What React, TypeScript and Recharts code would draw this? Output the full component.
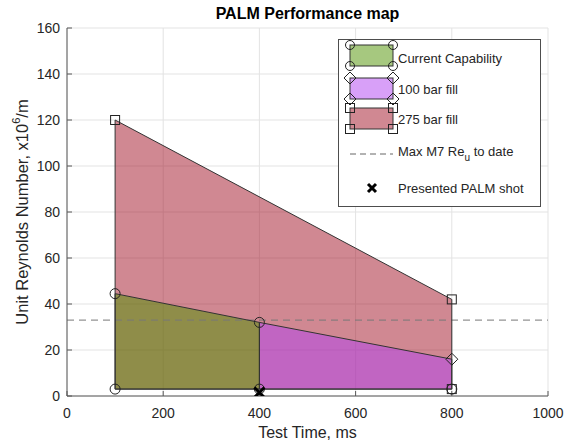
import React from 'react';
import {
  ComposedChart,
  Area,
  Scatter,
  XAxis,
  YAxis,
  CartesianGrid,
  ReferenceLine,
} from 'recharts';

// axis ticks
const xTicks = [0, 200, 400, 600, 800, 1000];
const yTicks = [0, 20, 40, 60, 80, 100, 120, 140, 160];

// envelopes: each one runs from the floor up to its top edge
const floorRe = 3;
const capabilityTop = [{ x: 100, y: 44.5 }, { x: 400, y: 32 }];
const fill100Top = [{ x: 400, y: 32 }, { x: 800, y: 16 }];
const fill275Top = [{ x: 100, y: 120 }, { x: 800, y: 42 }];

// corner markers
const circleMarks = [
  { x: 100, y: 3 },
  { x: 100, y: 44.5 },
  { x: 400, y: 32 },
  { x: 400, y: 3 },
  { x: 800, y: 3 },
];
const squareMarks = [{ x: 100, y: 120 }, { x: 800, y: 42 }, { x: 800, y: 3 }];
const diamondMarks = [{ x: 800, y: 16 }];

const maxM7Re = 33;
const palmShot = [{ x: 400, y: 1.5 }];

const chartTitle = 'PALM Performance map';
const legendLabels = ['Current Capability', '100 bar fill', '275 bar fill', 'Max M7 Re', 'Presented PALM shot'];

const GREEN = '#4d9100';
const PURPLE = '#b141f1';
const RED = '#a11125';
const ALPHA = 0.5;
const EDGE = '#333';
const FONT = '"Liberation Sans", Arial, sans-serif';
const INK = '#262626';

// table for the Area series, keyed by x
const allX = Array.from(new Set([...fill275Top, ...capabilityTop, ...fill100Top].map((p) => p.x))).sort((a, b) => a - b);
const band = (top: { x: number; y: number }[], x: number) => {
  const p = top.find((q) => q.x === x);
  return p ? [floorRe, p.y] : null;
};
const areaData = allX.map((x) => ({
  x,
  fill275: band(fill275Top, x),
  capability: band(capabilityTop, x),
  fill100: band(fill100Top, x),
}));

// closed outline for each envelope
const outline = (top: { x: number; y: number }[]) => [
  { x: top[0].x, y: floorRe },
  ...top,
  { x: top[top.length - 1].x, y: floorRe },
  { x: top[0].x, y: floorRe },
];

const Nothing = () => <g />;
const CircleMark = (p: any) => <circle cx={p.cx} cy={p.cy} r={5} fill="none" stroke="#222" strokeWidth={1} />;
const SquareMark = (p: any) => (
  <rect x={p.cx - 4.5} y={p.cy - 4.5} width={9} height={9} fill="none" stroke="#222" strokeWidth={1} />
);
const DiamondMark = (p: any) => (
  <path d={`M${p.cx},${p.cy - 6}L${p.cx + 6},${p.cy}L${p.cx},${p.cy + 6}L${p.cx - 6},${p.cy}Z`} fill="none" stroke="#222" strokeWidth={1} />
);
const CrossMark = (p: any) => (
  <path
    d={`M${p.cx - 5},${p.cy - 5}L${p.cx + 5},${p.cy + 5}M${p.cx - 5},${p.cy + 5}L${p.cx + 5},${p.cy - 5}`}
    stroke="#000"
    strokeWidth={3}
  />
);

const YLabel = (props: any) => {
  const vb = props.viewBox;
  const cx = 22;
  const cy = vb.y + vb.height / 2;
  return (
    <text
      x={cx}
      y={cy}
      transform={`rotate(-90, ${cx}, ${cy})`}
      textAnchor="middle"
      dominantBaseline="central"
      fontSize={16.5}
      fill={INK}
      fontFamily={FONT}
    >
      Unit Reynolds Number, x10
      <tspan dy={-6} fontSize={11}>6</tspan>
      <tspan dy={6}>/m</tspan>
    </text>
  );
};

function LegendBox() {
  const patch = (y: number, color: string, mark: string) => {
    const corners = [
      [12, y],
      [55, y],
      [12, y + 21],
      [55, y + 21],
    ];
    return (
      <g>
        <rect x={12} y={y} width={43} height={21} fill={color} fillOpacity={ALPHA} stroke={EDGE} strokeWidth={1} />
        {corners.map(([cx, cy], i) =>
          mark === 'circle' ? (
            <circle key={i} cx={cx} cy={cy} r={4.5} fill="none" stroke="#222" />
          ) : mark === 'square' ? (
            <rect key={i} x={cx - 4.5} y={cy - 4.5} width={9} height={9} fill="none" stroke="#222" />
          ) : (
            <path key={i} d={`M${cx},${cy - 6}L${cx + 6},${cy}L${cx},${cy + 6}L${cx - 6},${cy}Z`} fill="none" stroke="#222" />
          )
        )}
      </g>
    );
  };
  const txt = { fontSize: 13, fill: INK, fontFamily: FONT, dominantBaseline: 'central' as const };
  return (
    <svg width={203} height={168} style={{ position: 'absolute', left: 338, top: 39 }}>
      <rect x={0.5} y={0.5} width={202} height={167} fill="#fff" stroke="#4d4d4d" strokeWidth={1} />
      {patch(6, GREEN, 'circle')}
      <text x={60} y={19} {...txt}>{legendLabels[0]}</text>
      {patch(39, PURPLE, 'diamond')}
      <text x={60} y={50} {...txt}>{legendLabels[1]}</text>
      {patch(69, RED, 'square')}
      <text x={60} y={80} {...txt}>{legendLabels[2]}</text>
      <line x1={12} y1={115} x2={55} y2={115} stroke="#666" strokeDasharray="6 4" />
      <text x={60} y={112} {...txt}>
        {legendLabels[3]}
        <tspan dy={6} fontSize={10}>u</tspan>
        <tspan dy={-6}> to date</tspan>
      </text>
      <path d="M30,145L38,153M30,153L38,145" stroke="#000" strokeWidth={3} />
      <text x={60} y={149} {...txt}>{legendLabels[4]}</text>
    </svg>
  );
}

export default function App() {
  return (
    <div style={{ position: 'absolute', left: 0, top: 0, width: 575, height: 440, background: '#fff' }}>
      <ComposedChart
        width={575}
        height={440}
        data={areaData}
        margin={{ top: 28, right: 27, bottom: 0, left: 0 }}
        style={{ fontFamily: FONT }}
      >
        <CartesianGrid stroke="#e3e3e3" />
        <XAxis
          dataKey="x"
          type="number"
          domain={[0, 1000]}
          ticks={xTicks}
          allowDataOverflow
          height={44}
          stroke="#595959"
          tickSize={-5}
          tickMargin={17}
          tick={{ fill: INK, fontSize: 14 }}
          label={{ value: 'Test Time, ms', position: 'insideBottom', offset: 2, fill: INK, fontSize: 16 }}
        />
        <XAxis
          xAxisId="top"
          orientation="top"
          dataKey="x"
          type="number"
          domain={[0, 1000]}
          ticks={xTicks}
          height={0}
          stroke="#595959"
          tickSize={-5}
          tick={false}
        />
        <YAxis
          dataKey="y"
          type="number"
          domain={[0, 160]}
          ticks={yTicks}
          allowDataOverflow
          width={67}
          stroke="#595959"
          tickSize={-5}
          tickMargin={12}
          tick={{ fill: INK, fontSize: 14 }}
          label={<YLabel />}
        />
        <YAxis
          yAxisId="right"
          orientation="right"
          type="number"
          domain={[0, 160]}
          ticks={yTicks}
          width={0}
          stroke="#595959"
          tickSize={-5}
          tick={false}
        />
        <Area type="linear" dataKey="fill275" fill={RED} fillOpacity={ALPHA} stroke="none" connectNulls isAnimationActive={false} />
        <Area type="linear" dataKey="capability" fill={GREEN} fillOpacity={ALPHA} stroke="none" isAnimationActive={false} />
        <Area type="linear" dataKey="fill100" fill={PURPLE} fillOpacity={ALPHA} stroke="none" isAnimationActive={false} />
        <Scatter data={outline(fill275Top)} line={{ stroke: EDGE, strokeWidth: 1 }} shape={Nothing} isAnimationActive={false} />
        <Scatter data={outline(capabilityTop)} line={{ stroke: EDGE, strokeWidth: 1 }} shape={Nothing} isAnimationActive={false} />
        <Scatter data={outline(fill100Top)} line={{ stroke: EDGE, strokeWidth: 1 }} shape={Nothing} isAnimationActive={false} />
        <ReferenceLine y={maxM7Re} stroke="#777" strokeDasharray="7 5" />
        <Scatter data={circleMarks} shape={CircleMark} isAnimationActive={false} />
        <Scatter data={squareMarks} shape={SquareMark} isAnimationActive={false} />
        <Scatter data={diamondMarks} shape={DiamondMark} isAnimationActive={false} />
        <Scatter data={palmShot} shape={CrossMark} isAnimationActive={false} />
      </ComposedChart>
      <div
        style={{
          position: 'absolute',
          left: 67,
          width: 481,
          top: 4,
          textAlign: 'center',
          fontFamily: FONT,
          fontWeight: 'bold',
          fontSize: 16,
          color: '#000',
          lineHeight: '20px',
        }}
      >
        {chartTitle}
      </div>
      <LegendBox />
    </div>
  );
}
